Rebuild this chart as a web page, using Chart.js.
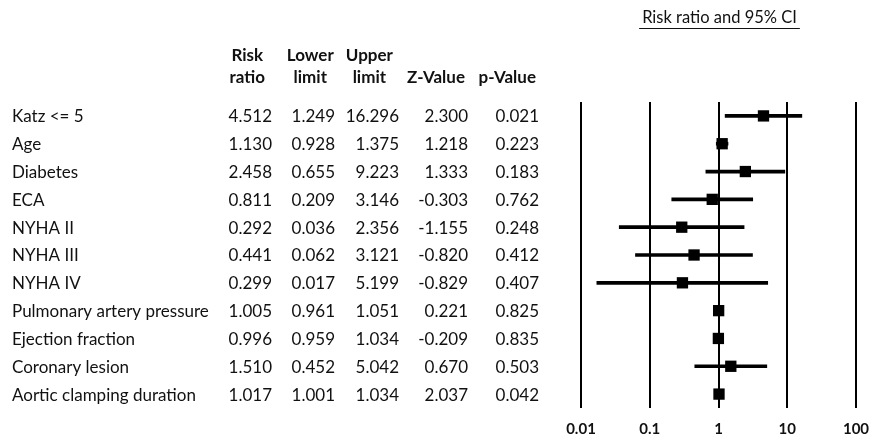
<!DOCTYPE html>
<html><head><meta charset="utf-8">
<script src="https://cdn.jsdelivr.net/npm/chart.js@4.4.0/dist/chart.umd.min.js"></script>
<style>html,body{margin:0;background:#fff}#wrap{width:872px;height:441px}</style>
</head><body><div id="wrap"><canvas id="c"></canvas></div>
<script>
const labels=["Katz <= 5","Age","Diabetes","ECA","NYHA II","NYHA III","NYHA IV",
  "Pulmonary artery pressure","Ejection fraction","Coronary lesion","Aortic clamping duration"];
const riskRatio=[4.512,1.130,2.458,0.811,0.292,0.441,0.299,1.005,0.996,1.510,1.017];
const lowerLimit=[1.249,0.928,0.655,0.209,0.036,0.062,0.017,0.961,0.959,0.452,1.001];
const upperLimit=[16.296,1.375,9.223,3.146,2.356,3.121,5.199,1.051,1.034,5.042,1.034];
const zValue=[2.300,1.218,1.333,-0.303,-1.155,-0.820,-0.829,0.221,-0.209,0.670,2.037];
const pValue=[0.021,0.223,0.183,0.762,0.248,0.412,0.407,0.825,0.835,0.503,0.042];
const xTicks=[0.01,0.1,1,10,100];
const xTickLabels=["0.01","0.1","1","10","100"];
const plotTitle="Risk ratio and 95% CI";

const FONT="Lato, 'Open Sans', sans-serif";
const INK="#111";

// table columns: header lines, values, right edge of the numbers
const columns=[
  {head:["Risk","ratio"],vals:riskRatio,right:272},
  {head:["Lower","limit"],vals:lowerLimit,right:335},
  {head:["Upper","limit"],vals:upperLimit,right:399},
  {head:["","Z-Value"],vals:zValue,right:468},
  {head:["","p-Value"],vals:pValue,right:539}
];

const tablePlugin={
  id:"table",
  afterDraw(chart){
    const ctx=chart.ctx, y=chart.scales.y, area=chart.chartArea;
    ctx.save();
    ctx.fillStyle=INK; ctx.textBaseline="middle";
    // row labels + numbers
    ctx.font="17px "+FONT;
    labels.forEach((lab,i)=>{
      const py=y.getPixelForValue(i)+1;
      ctx.textAlign="left"; ctx.fillText(lab,12,py);
      ctx.textAlign="right";
      columns.forEach(c=>ctx.fillText(c.vals[i].toFixed(3),c.right,py));
    });
    // headers, centred over their column
    ctx.textAlign="center";
    columns.forEach(c=>{
      ctx.font="17px "+FONT;
      const vw=ctx.measureText(c.vals[0].toFixed(3)).width;
      ctx.font="bold 17px "+FONT;
      const w=ctx.measureText(c.head[1]).width;
      const cx=c.right-Math.max(vw,w)/2-3;
      if(c.head[0]) ctx.fillText(c.head[0],cx,56);
      ctx.fillText(c.head[1],cx,78);
    });
    // underlined title over the plot
    ctx.font="16.5px "+FONT;
    const tx=(area.left+area.right)/2+1, tw=ctx.measureText(plotTitle).width;
    ctx.fillText(plotTitle,tx,18);
    ctx.strokeStyle=INK; ctx.lineWidth=1;
    ctx.beginPath(); ctx.moveTo(tx-tw/2-3,28.5); ctx.lineTo(tx+tw/2+3,28.5); ctx.stroke();
    ctx.restore();
  }
};

new Chart(document.getElementById("c"),{
  type:"bar",
  data:{
    labels:labels,
    datasets:[
      {type:"line",indexAxis:"y",data:riskRatio,showLine:false,pointStyle:"rect",
       pointRadius:8,pointBackgroundColor:"#000",pointBorderWidth:0,order:0},
      {type:"bar",data:labels.map((_,i)=>[lowerLimit[i],upperLimit[i]]),
       backgroundColor:"#000",barThickness:3,order:1}
    ]
  },
  options:{
    indexAxis:"y",
    responsive:true,maintainAspectRatio:false,animation:false,
    layout:{padding:{left:581,right:16,top:102,bottom:0}},
    plugins:{legend:{display:false},tooltip:{enabled:false}},
    scales:{
      x:{type:"logarithmic",min:0.01,max:100,
        afterBuildTicks:s=>{s.ticks=xTicks.map(v=>({value:v}));},
        afterFit:s=>{s.height=33; s.paddingLeft=0; s.paddingRight=0;},
        grid:{color:"#000",lineWidth:2,drawTicks:false},
        border:{display:false},
        ticks:{color:INK,font:{family:FONT,size:15,weight:"bold"},padding:12,
          autoSkip:false,maxRotation:0,callback:(v,i)=>xTickLabels[i]}},
      y:{type:"category",offset:true,display:false,grid:{display:false}}
    }
  },
  plugins:[tablePlugin]
});
</script>
</body></html>
